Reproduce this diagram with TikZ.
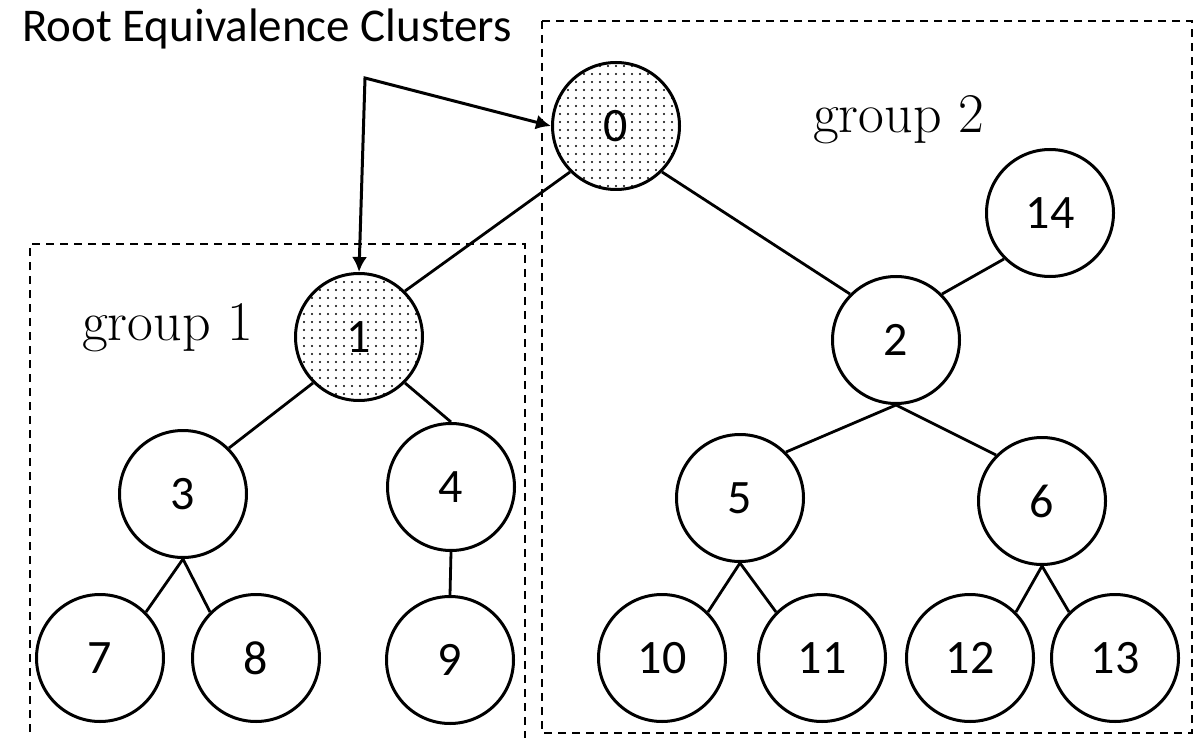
\documentclass[tikz,border=0pt]{standalone}
\usepackage{fontspec}
\newfontfamily\carlitofont{Carlito}
\usetikzlibrary{arrows.meta,patterns.meta}
\begin{document}
\begin{tikzpicture}[x=1pt,y=-1pt,
  nd/.style={circle,draw,line width=3pt,minimum size=127pt,inner sep=0pt,font=\carlitofont\fontsize{48}{54}\selectfont},
  root/.style={nd,pattern={Dots[distance=8pt,radius=1.1pt]}},
  edge/.style={line width=2.8pt},
  grp/.style={dashed,line width=2.8pt,dash pattern=on 8pt off 6pt},
  arr/.style={line width=3pt,{Latex[length=15pt,width=15pt]}-{Latex[length=15pt,width=15pt]}},
  lbl/.style={font=\fontsize{56}{62}\selectfont,inner sep=0pt,anchor=base west}]
\useasboundingbox (0,0) rectangle (1202,738);
% groups
\draw[grp] (30,760) -- (30,244) -- (525,244) -- (525,760);
\draw[grp] (542,21) rectangle (1192,733);
\node[lbl] (g1) at (82,340) {group 1};
\node[lbl] (g2) at (813,133) {group 2};
% nodes
\node[root] (n0) at (616,126) {0};
\node[root] (n1) at (359,337) {1};
\node[nd] (n14) at (1050,213) {14};
\node[nd] (n2) at (896,340) {2};
\node[nd] (n3) at (183,494) {3};
\node[nd] (n4) at (451,487) {4};
\node[nd] (n5) at (740,498) {5};
\node[nd] (n6) at (1042,501) {6};
\node[nd] (n7) at (100,658) {7};
\node[nd] (n8) at (256,658) {8};
\node[nd] (n9) at (450,660) {9};
\node[nd] (n10) at (662,658) {10};
\node[nd] (n11) at (822,658) {11};
\node[nd] (n12) at (970,658) {12};
\node[nd] (n13) at (1115,658) {13};
% edges
\draw[edge] (n0.south west) -- (n1.north east);
\draw[edge] (n0.south east) -- (n2.north west);
\draw[edge] (n2.north east) -- (n14.south west);
\draw[edge] (n1.south west) -- (n3.north east);
\draw[edge] (n1.south east) -- (n4.north);
\draw[edge] (n3.south) -- (n7.north east);
\draw[edge] (n3.south) -- (n8.north west);
\draw[edge] (n4.south) -- (n9.north);
\draw[edge] (n2.south) -- (n5.north east);
\draw[edge] (n2.south) -- (n6.north west);
\draw[edge] (n5.south) -- (n10.north east);
\draw[edge] (n5.south) -- (n11.north west);
\draw[edge] (n6.south) -- (n12.north east);
\draw[edge] (n6.south) -- (n13.north west);
% title and arrows
\node[font=\carlitofont\fontsize{47}{52}\selectfont,inner sep=0pt,anchor=base west] (t) at (22,42) {Root Equivalence Clusters};
\coordinate (c) at (365,78);
\draw[arr] (n0.west) -- (c) -- (n1.north);
\end{tikzpicture}
\end{document}
